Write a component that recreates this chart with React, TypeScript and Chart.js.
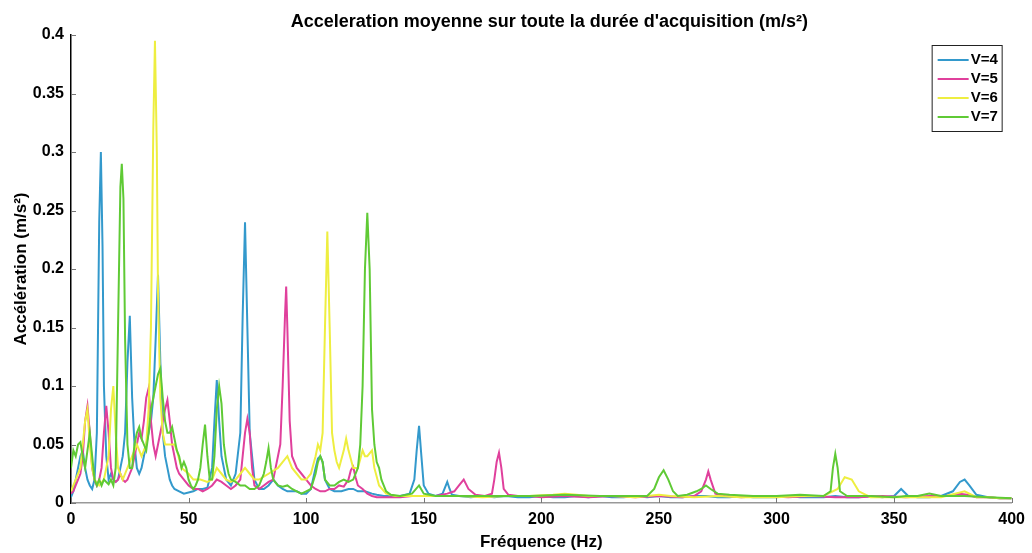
import React, { useEffect, useRef } from "react";
import { Chart, registerables } from "chart.js";

Chart.register(...registerables);

const chartTitle = "Acceleration moyenne sur toute la durée d'acquisition (m/s²)";
const xTitle = "Fréquence (Hz)";
const yTitle = "Accélération (m/s²)";
const seriesNames = ["V=4", "V=5", "V=6", "V=7"];
const seriesColors = ["#3399cc", "#e0409c", "#eeee40", "#5fca35"];

const v4Freq = [
  0, 1, 2, 3, 4, 5, 6, 7, 8, 9,
  10, 11, 11.5, 12, 12.7, 13.4, 14, 15, 16, 17,
  18, 19, 20, 21, 22, 23, 24, 25, 26, 27,
  28, 29, 30, 31, 32, 33, 34, 35, 36, 37,
  38, 39, 40, 41, 42, 43, 44, 46, 48, 50,
  52, 54, 56, 58, 60, 61, 62, 63, 64, 66,
  68, 70, 72, 73, 74, 75, 76, 78, 80, 82,
  84, 86, 88, 90, 92, 94, 96, 98, 100, 102,
  104, 105, 106, 107, 108, 110, 112, 115, 118, 120,
  122, 125, 128, 130, 133, 136, 140, 144, 146, 147,
  148, 149, 150, 152, 155, 158, 160, 161, 162, 165,
  170, 175, 180, 185, 190, 195, 200, 205, 210, 215,
  220, 225, 230, 235, 240, 245, 250, 255, 260, 265,
  270, 275, 280, 285, 290, 295, 300, 305, 310, 315,
  320, 325, 330, 335, 340, 345, 350, 353, 356, 360,
  365, 370, 375, 378, 380, 382, 385, 390, 395, 400,
];
const v4Acc = [
  0.005, 0.01, 0.02, 0.03, 0.04, 0.045, 0.03, 0.02, 0.015, 0.012,
  0.02, 0.06, 0.15, 0.24, 0.3, 0.22, 0.1, 0.04, 0.02, 0.025,
  0.02, 0.018, 0.02, 0.03, 0.04, 0.06, 0.12, 0.16, 0.09, 0.05,
  0.03, 0.025, 0.03, 0.04, 0.05, 0.06, 0.07, 0.09, 0.14, 0.195,
  0.12, 0.06, 0.04, 0.03, 0.02, 0.015, 0.012, 0.01, 0.008, 0.009,
  0.01, 0.012, 0.012, 0.013, 0.03, 0.07, 0.105, 0.07, 0.04, 0.02,
  0.015, 0.025, 0.06, 0.16, 0.24, 0.15, 0.06, 0.02, 0.012, 0.012,
  0.015, 0.02, 0.015, 0.012, 0.01, 0.01, 0.01, 0.008, 0.008, 0.012,
  0.03, 0.038, 0.04, 0.035, 0.02, 0.012, 0.01, 0.01, 0.012, 0.012,
  0.01, 0.01, 0.008, 0.007, 0.006, 0.006, 0.006, 0.008, 0.02, 0.045,
  0.066, 0.04, 0.015, 0.008, 0.006, 0.008, 0.018, 0.012, 0.007, 0.006,
  0.005, 0.006, 0.005, 0.006, 0.005, 0.005, 0.006, 0.005, 0.005, 0.006,
  0.005, 0.006, 0.005, 0.005, 0.006, 0.005, 0.006, 0.005, 0.005, 0.006,
  0.006, 0.005, 0.005, 0.006, 0.005, 0.005, 0.005, 0.006, 0.005, 0.005,
  0.005, 0.006, 0.005, 0.005, 0.006, 0.005, 0.006, 0.012, 0.006, 0.005,
  0.005, 0.006, 0.01, 0.018, 0.02, 0.015, 0.007, 0.005, 0.004, 0.004,
];

const v5Freq = [
  0, 1, 2, 3, 4, 5, 6, 7, 8, 9,
  10, 11, 12, 13, 14, 15, 16, 17, 18, 19,
  20, 21, 22, 23, 24, 25, 26, 27, 28, 29,
  30, 31, 32, 33, 34, 35, 36, 37, 38, 39,
  40, 41, 42, 43, 44, 45, 46, 48, 50, 52,
  54, 56, 58, 60, 62, 64, 66, 68, 70, 72,
  73, 74, 75, 76, 77, 78, 80, 82, 84, 86,
  87, 88, 89, 90, 91, 91.5, 92, 93, 94, 96,
  98, 100, 102, 104, 106, 108, 110, 112, 114, 116,
  118, 119, 120, 121, 122, 124, 126, 128, 130, 135,
  140, 145, 150, 155, 160, 163, 165, 167, 169, 172,
  176, 179, 180, 181, 182, 183, 184, 186, 190, 195,
  200, 210, 220, 230, 240, 250, 260, 265, 268, 270,
  271, 272, 274, 278, 285, 295, 305, 315, 325, 335,
  345, 355, 365, 372, 378, 381, 385, 390, 395, 400,
];
const v5Acc = [
  0.008, 0.01, 0.015, 0.02, 0.025, 0.04, 0.07, 0.083, 0.06, 0.03,
  0.02, 0.015, 0.02, 0.03, 0.06, 0.083, 0.06, 0.03, 0.02, 0.018,
  0.02, 0.025, 0.02, 0.018, 0.02, 0.025, 0.03, 0.04, 0.05, 0.06,
  0.055, 0.07, 0.09, 0.098, 0.07, 0.05, 0.04, 0.05, 0.06, 0.07,
  0.08, 0.088, 0.07, 0.05, 0.04, 0.03, 0.025, 0.02, 0.015, 0.012,
  0.012, 0.01, 0.012, 0.015, 0.02, 0.018, 0.015, 0.012, 0.015, 0.02,
  0.04, 0.06, 0.072, 0.06, 0.03, 0.015, 0.012, 0.015, 0.018, 0.02,
  0.03, 0.04, 0.05, 0.1, 0.16, 0.185, 0.15, 0.07, 0.04, 0.03,
  0.025, 0.02, 0.015, 0.012, 0.01, 0.01, 0.012, 0.012, 0.015, 0.014,
  0.02, 0.028, 0.031, 0.022, 0.015, 0.012, 0.008, 0.006, 0.005, 0.005,
  0.005, 0.006, 0.006, 0.006, 0.008, 0.01, 0.015, 0.02, 0.012, 0.007,
  0.006, 0.008, 0.02, 0.035, 0.043, 0.03, 0.012, 0.007, 0.006, 0.006,
  0.005, 0.006, 0.005, 0.006, 0.005, 0.006, 0.005, 0.006, 0.01, 0.02,
  0.027, 0.02, 0.008, 0.006, 0.005, 0.006, 0.005, 0.006, 0.005, 0.005,
  0.006, 0.005, 0.006, 0.006, 0.008, 0.007, 0.005, 0.005, 0.004, 0.004,
];

const v6Freq = [
  0, 2, 4, 5, 6, 7, 8, 9, 10, 12,
  14, 16, 17, 18, 19, 20, 22, 24, 26, 28,
  30, 32, 33, 34, 35, 35.7, 36.5, 37, 38, 39,
  40, 42, 44, 45, 47, 50, 52, 55, 58, 60,
  62, 64, 66, 68, 70, 72, 74, 76, 78, 80,
  84, 88, 92, 94, 96, 98, 100, 102, 104, 105,
  106, 107, 108, 109, 110, 111, 112, 113, 114, 116,
  117, 118, 120, 122, 124, 125, 126, 128, 129, 131,
  134, 138, 145, 155, 165, 175, 185, 195, 205, 210,
  215, 220, 230, 240, 250, 255, 265, 275, 285, 300,
  310, 320, 326, 329, 332, 335, 340, 355, 370, 380,
  385, 390, 395, 400,
];
const v6Acc = [
  0.01, 0.02, 0.03, 0.05, 0.07, 0.08, 0.05, 0.03, 0.02, 0.015,
  0.02, 0.04, 0.08, 0.1, 0.06, 0.03, 0.02, 0.03, 0.04, 0.05,
  0.04, 0.05, 0.08, 0.15, 0.32, 0.395, 0.3, 0.18, 0.09, 0.06,
  0.05, 0.05, 0.05, 0.045, 0.03, 0.025, 0.02, 0.02, 0.018, 0.02,
  0.03, 0.025, 0.02, 0.018, 0.02, 0.025, 0.03, 0.025, 0.02, 0.02,
  0.025, 0.03, 0.04, 0.03, 0.025, 0.02, 0.02, 0.025, 0.04, 0.05,
  0.045, 0.06, 0.15, 0.232, 0.15, 0.06, 0.045, 0.035, 0.03, 0.045,
  0.055, 0.045, 0.03, 0.03, 0.045, 0.04, 0.04, 0.045, 0.03, 0.015,
  0.008, 0.006, 0.006, 0.006, 0.006, 0.005, 0.006, 0.006, 0.007, 0.008,
  0.007, 0.006, 0.006, 0.005, 0.007, 0.006, 0.005, 0.006, 0.005, 0.005,
  0.006, 0.006, 0.012, 0.022, 0.02, 0.01, 0.005, 0.005, 0.005, 0.01,
  0.005, 0.005, 0.004, 0.004,
];

const v7Freq = [
  0, 1, 2, 3, 4, 5, 6, 7, 8, 9,
  10, 11, 12, 13, 14, 15, 16, 17, 18, 19,
  20, 21, 21.6, 22.3, 23, 24, 25, 26, 27, 28,
  29, 30, 31, 32, 33, 34, 35, 36, 37, 38,
  39, 40, 41, 42, 43, 44, 45, 46, 47, 48,
  49, 50, 51, 52, 53, 54, 55, 56, 57, 58,
  59, 60, 61, 62, 63, 64, 65, 66, 67, 68,
  70, 72, 74, 76, 78, 80, 82, 83, 84, 85,
  86, 88, 90, 92, 94, 96, 98, 100, 102, 104,
  105, 106, 107, 108, 110, 112, 114, 116, 118, 120,
  122, 123, 124, 125, 126, 127, 128, 129, 130, 131,
  132, 134, 136, 140, 145, 148, 150, 155, 165, 180,
  195, 210, 225, 240, 245, 248, 250, 252, 254, 256,
  258, 262, 266, 268, 270, 272, 275, 280, 290, 300,
  310, 320, 323, 324, 325, 326, 327, 330, 340, 350,
  355, 360, 365, 370, 380, 390, 400,
];
const v7Acc = [
  0.03, 0.045, 0.04, 0.05, 0.052, 0.04, 0.03, 0.045, 0.06, 0.04,
  0.02, 0.015, 0.02, 0.015, 0.02, 0.018, 0.016, 0.02, 0.015, 0.03,
  0.15, 0.27, 0.29, 0.26, 0.14, 0.05, 0.03, 0.03, 0.05, 0.06,
  0.065, 0.055, 0.05, 0.045, 0.06, 0.08, 0.09, 0.1, 0.11, 0.115,
  0.09, 0.07, 0.06, 0.06, 0.065, 0.055, 0.045, 0.04, 0.03, 0.035,
  0.03, 0.02, 0.015, 0.012, 0.015, 0.02, 0.03, 0.05, 0.067, 0.04,
  0.02, 0.02, 0.04, 0.08, 0.1, 0.085, 0.05, 0.035, 0.025, 0.02,
  0.018, 0.015, 0.015, 0.012, 0.012, 0.015, 0.025, 0.035, 0.047, 0.03,
  0.02, 0.015, 0.014, 0.015, 0.012, 0.01, 0.008, 0.01, 0.012, 0.025,
  0.035, 0.04, 0.035, 0.02, 0.015, 0.015, 0.018, 0.02, 0.018, 0.02,
  0.03, 0.05, 0.1, 0.2, 0.248, 0.2, 0.08, 0.05, 0.035, 0.03,
  0.02, 0.01, 0.007, 0.006, 0.008, 0.015, 0.008, 0.006, 0.006, 0.006,
  0.006, 0.007, 0.006, 0.006, 0.006, 0.012, 0.022, 0.028, 0.02, 0.01,
  0.006, 0.007, 0.01, 0.012, 0.015, 0.012, 0.008, 0.007, 0.006, 0.006,
  0.007, 0.006, 0.01, 0.03, 0.042, 0.03, 0.01, 0.006, 0.006, 0.005,
  0.006, 0.006, 0.008, 0.006, 0.006, 0.005, 0.004,
];

const freqs = [v4Freq, v5Freq, v6Freq, v7Freq];
const accs = [v4Acc, v5Acc, v6Acc, v7Acc];

const FONT = "'Liberation Sans', Arial, Helvetica, sans-serif";

const decorPlugin = {
  id: "decor",
  afterDatasetsDraw(chart: any) {
    const { ctx, chartArea, scales } = chart;
    const { left, right, top, bottom } = chartArea;
    ctx.save();
    // inner tick marks
    ctx.strokeStyle = "#777";
    ctx.lineWidth = 1;
    scales.y.ticks.forEach((t: any) => {
      const y = Math.round(scales.y.getPixelForValue(t.value)) + 0.5;
      ctx.beginPath();
      ctx.moveTo(left, y);
      ctx.lineTo(left + 5, y);
      ctx.stroke();
    });
    scales.x.ticks.forEach((t: any) => {
      const x = Math.round(scales.x.getPixelForValue(t.value)) + 0.5;
      ctx.beginPath();
      ctx.moveTo(x, bottom);
      ctx.lineTo(x, bottom - 5);
      ctx.stroke();
    });
    // legend
    const bw = 70;
    const bh = 86;
    const bx = right - 10 - bw;
    const by = top + 10;
    ctx.fillStyle = "#fff";
    ctx.fillRect(bx, by, bw, bh);
    ctx.strokeStyle = "#222";
    ctx.lineWidth = 1;
    ctx.strokeRect(bx + 0.5, by + 0.5, bw, bh);
    ctx.font = `bold 15px ${FONT}`;
    ctx.textBaseline = "middle";
    ctx.textAlign = "left";
    seriesNames.forEach((name, i) => {
      const y = by + 15 + i * 19;
      ctx.strokeStyle = seriesColors[i];
      ctx.lineWidth = 2;
      ctx.beginPath();
      ctx.moveTo(bx + 6, y);
      ctx.lineTo(bx + 37, y);
      ctx.stroke();
      ctx.fillStyle = "#000";
      ctx.fillText(name, bx + 39, y);
    });
    // title
    ctx.font = `bold 18px ${FONT}`;
    ctx.textAlign = "center";
    ctx.textBaseline = "middle";
    ctx.fillStyle = "#000";
    ctx.fillText(chartTitle, (left + right) / 2 + 8, 22);
    ctx.restore();
  },
};

export default function App() {
  const ref = useRef<HTMLCanvasElement | null>(null);
  useEffect(() => {
    if (!ref.current) return;
    const datasets = seriesNames.map((name, i) => ({
      label: name,
      data: freqs[i].map((f, j) => ({ x: f, y: accs[i][j] })),
      borderColor: seriesColors[i],
      backgroundColor: seriesColors[i],
      borderWidth: 2,
      pointRadius: 0,
      tension: 0,
      fill: false,
      order: 4 - i,
    }));
    const chart = new Chart(ref.current, {
      type: "line",
      data: { datasets },
      options: {
        animation: false,
        responsive: true,
        maintainAspectRatio: false,
        layout: { padding: { top: 35, right: 19, bottom: 0, left: 0 } },
        plugins: {
          legend: { display: false },
          title: { display: false },
          tooltip: { enabled: false },
        },
        scales: {
          x: {
            type: "linear",
            min: 0,
            max: 400,
            afterFit: (s: any) => {
              s.height = 50;
            },
            ticks: {
              stepSize: 50,
              color: "#000",
              padding: 7,
              maxRotation: 0,
              font: { family: FONT, size: 16, weight: "bold" },
            },
            grid: { display: true, drawOnChartArea: false, drawTicks: false },
            border: { display: true, color: "#999", width: 1.5 },
            title: {
              display: true,
              text: xTitle,
              color: "#000",
              padding: { top: 0, bottom: 0 },
              font: { family: FONT, size: 17, weight: "bold" },
            },
          },
          y: {
            type: "linear",
            min: 0,
            max: 0.4,
            afterFit: (s: any) => {
              s.width = 71;
            },
            ticks: {
              stepSize: 0.05,
              color: "#000",
              padding: 7,
              font: { family: FONT, size: 16, weight: "bold" },
              callback: (v: any) => String(Math.round(Number(v) * 100) / 100),
            },
            grid: { display: true, drawOnChartArea: false, drawTicks: false },
            border: { display: true, color: "#000", width: 1.5 },
            title: {
              display: true,
              text: yTitle,
              color: "#000",
              padding: { top: 11, bottom: 0 },
              font: { family: FONT, size: 17, weight: "bold" },
            },
          },
        },
      },
      plugins: [decorPlugin],
    });
    return () => chart.destroy();
  }, []);
  return (
    <div
      style={{
        position: "fixed",
        left: 0,
        top: 0,
        width: 1032,
        height: 553,
        background: "#fff",
      }}
    >
      <canvas ref={ref} />
    </div>
  );
}
